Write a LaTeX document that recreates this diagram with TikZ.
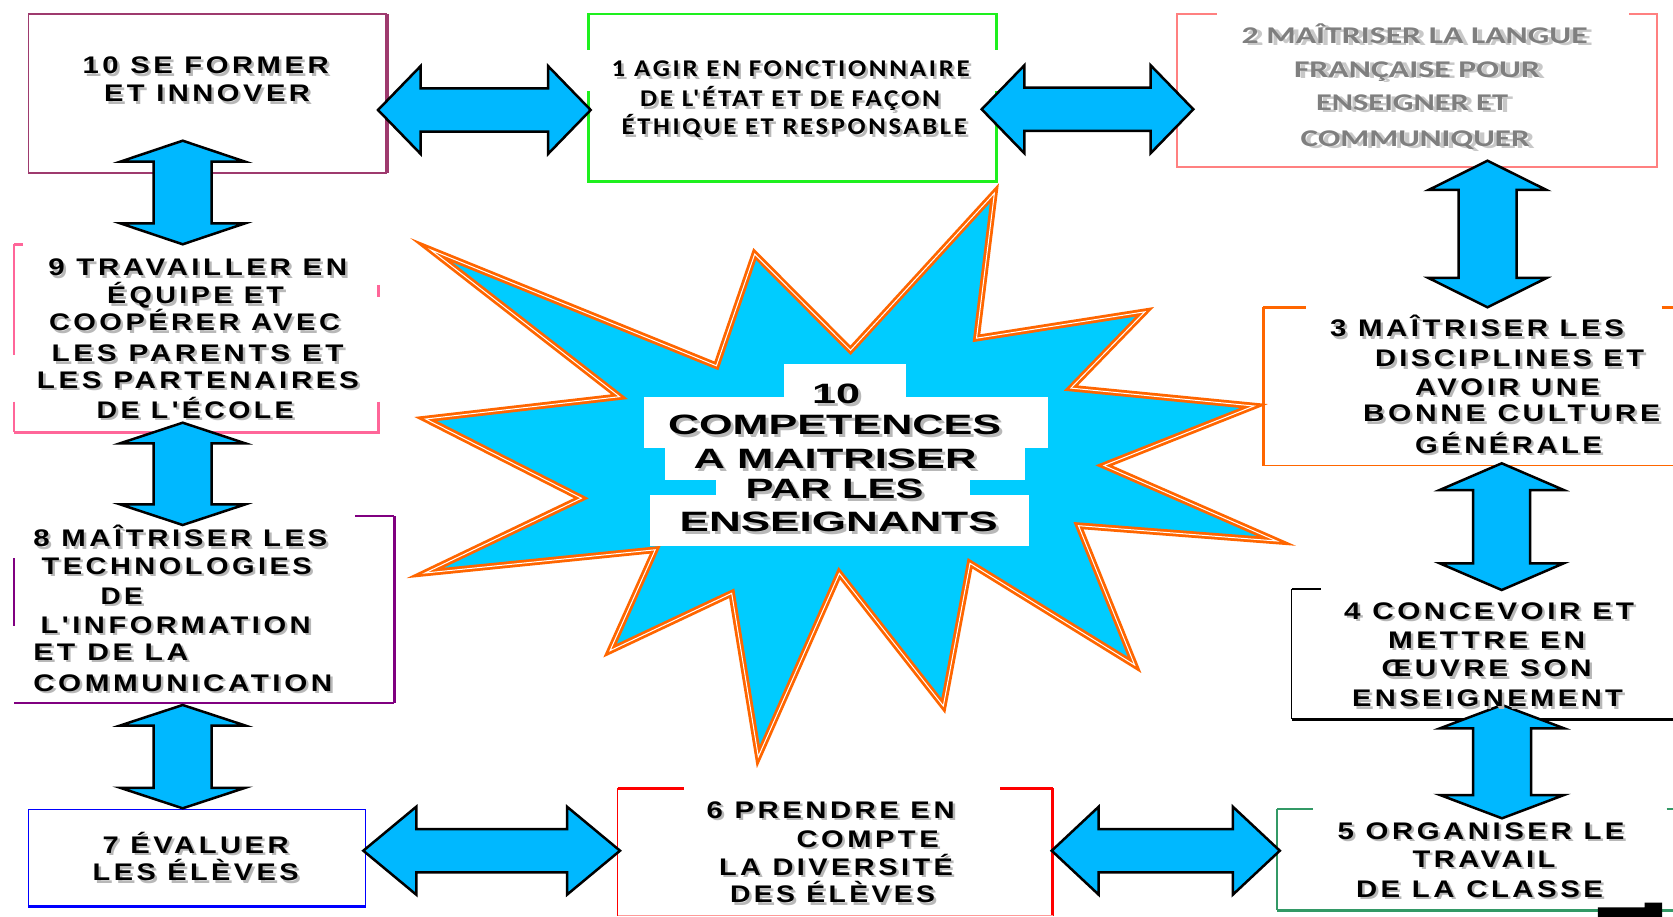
\documentclass[tikz,border=0pt]{standalone}
\usepackage{fontspec}
\setmainfont{Liberation Sans}
\newfontfamily\bxfont{Liberation Sans}[LetterSpace=12]
\newfontfamily\calsp{Carlito}[LetterSpace=10]
\newfontfamily\calfont{Carlito}
\usetikzlibrary{calc}
\definecolor{c10}{RGB}{158,58,110}
\definecolor{cgreen}{RGB}{30,240,30}
\definecolor{c2}{RGB}{255,128,128}
\definecolor{corange}{RGB}{255,102,0}
\definecolor{c5}{RGB}{51,153,102}
\definecolor{c9}{RGB}{255,102,153}
\definecolor{c8}{RGB}{128,0,128}
\definecolor{c7}{RGB}{0,0,255}
\definecolor{c6}{RGB}{255,0,0}
\definecolor{c6b}{RGB}{255,153,153}
\definecolor{arrfill}{RGB}{0,184,255}
\definecolor{starfill}{RGB}{0,204,255}
\definecolor{gtext}{RGB}{127,127,127}
\definecolor{gghost}{RGB}{200,200,200}
\newcommand\FB{\bxfont\bfseries\fontsize{24}{28}\selectfont}
\newcommand\FC{\calsp\bfseries\fontsize{24}{28}\selectfont}
\newcommand\FG{\calfont\bfseries\fontsize{24}{28}\selectfont}
\newcommand\FS{\bfseries\fontsize{28}{32}\selectfont}
% text line with grey shadow: name, x, baseline y, width, font, text
\newcommand\tline[6]{%
  \node[tshadow] (#1s) at ({#2+2.5},{#3+2.5}) {\resizebox{#4pt}{\height}{#5#6}};
  \node[tmain] (#1) at (#2,#3) {\resizebox{#4pt}{\height}{#5#6}};}
% grey text with ghost copy
\newcommand\gline[5]{%
  \node[tghost] (#1s) at ({#2+5},{#3+1.5}) {\resizebox{#4pt}{\height}{\FG#5}};
  \node[tgrey] (#1) at (#2,#3) {\resizebox{#4pt}{\height}{\FG#5}};}
% centre text
\newcommand\ctext[5]{%
  \node[tshadow] (#1s) at ({#2+3},{#3+3}) {\resizebox{#4pt}{\height}{\FS#5}};
  \node[tmain] (#1) at (#2,#3) {\resizebox{#4pt}{\height}{\FS#5}};}
% horizontal double block arrow: left tip, right tip, head length, head half, shaft half
\newcommand\harr[5]{%
  \draw[blockarrow] (#1) -- ($(#1)+(#3,-#4)$) -- ($(#1)+(#3,-#5)$) -- ($(#2)+(-#3,-#5)$)
    -- ($(#2)+(-#3,-#4)$) -- (#2) -- ($(#2)+(-#3,#4)$) -- ($(#2)+(-#3,#5)$)
    -- ($(#1)+(#3,#5)$) -- ($(#1)+(#3,#4)$) -- cycle;}
% vertical double block arrow: top tip, bottom tip, head length, head half, shaft half
\newcommand\varr[5]{%
  \draw[blockarrow] (#1) -- ($(#1)+(#4,#3)$) -- ($(#1)+(#5,#3)$) -- ($(#2)+(#5,-#3)$)
    -- ($(#2)+(#4,-#3)$) -- (#2) -- ($(#2)+(-#4,-#3)$) -- ($(#2)+(-#5,-#3)$)
    -- ($(#1)+(-#5,#3)$) -- ($(#1)+(-#4,#3)$) -- cycle;}
\begin{document}
\begin{tikzpicture}[x=1pt,y=-1pt,
  tshadow/.style={anchor=base west,inner sep=0pt,outer sep=0pt,text=black!28},
  tmain/.style={anchor=base west,inner sep=0pt,outer sep=0pt,text=black},
  tghost/.style={anchor=base west,inner sep=0pt,outer sep=0pt,text=gghost},
  tgrey/.style={anchor=base west,inner sep=0pt,outer sep=0pt,text=gtext},
  blockarrow/.style={fill=arrfill,draw=black,line width=2.5pt,line join=miter}]
\useasboundingbox (0,0) rectangle (1673,917);
\fill[white] (0,0) rectangle (1673,917);

% ---------- starburst ----------
\path[fill=starfill,draw=corange,line width=2.8pt,double=white,double distance=1pt,line join=miter]
 (431,250) -- (716.4,365.8) -- (754.7,254) -- (850.5,350.3) -- (994.4,193.1)
 -- (976.5,338.2) -- (1144.8,311.8) -- (1070.9,388.1) -- (1254,406)
 -- (1104,465.5) -- (1276.7,541) -- (1078.5,525.7) -- (1134.6,665)
 -- (970,563.3) -- (943.3,706) -- (839.3,573.3) -- (758.3,756.7)
 -- (731.7,593.3) -- (610,650.7) -- (655.2,549.8) -- (425,573)
 -- (581.3,498.2) -- (425.7,419) -- (619.5,396.7) -- cycle;
% white panels behind the centre title
\fill[white] (783.7,364) rectangle (906,396.7);
\fill[white] (643.5,396.7) rectangle (1048,447.6);
\fill[white] (665.4,447.6) rectangle (1025,480.3);
\fill[white] (716.4,480.3) rectangle (970,495.4);
\fill[white] (650,495.4) rectangle (1028.5,546.4);

% ---------- boxes ----------
% box 10
\draw[c10,line width=1.5pt] (387,14) -- (28.3,14) -- (28.3,173) -- (387,173);
\draw[c10,line width=3.3pt] (387,14) -- (387,173);
% box 1
\draw[cgreen,line width=2.7pt] (588.3,50) -- (588.3,14) -- (996.7,14) -- (996.7,50);
\draw[cgreen,line width=2.7pt] (588.3,91) -- (588.3,181.7) -- (996.7,181.7) -- (996.7,91);
% box 2
\draw[c2,line width=2pt] (1216.7,14) -- (1177.3,14) -- (1177.3,167.3) -- (1656.7,167.3) -- (1656.7,14) -- (1629,14);
% box 3
\draw[corange,line width=3.3pt] (1263.3,307.3) -- (1263.3,465.7);
\draw[corange,line width=2.5pt] (1263.3,307.3) -- (1306,307.3);
\draw[corange,line width=2.5pt] (1661.7,307.3) -- (1673,307.3);
\draw[corange,line width=1.4pt] (1263.3,465.7) -- (1673,465.7);
% box 4
\draw[black,line width=1.3pt] (1291.7,589) -- (1291.7,719.3);
\draw[black,line width=2.5pt] (1291.7,589) -- (1321,589);
\draw[black,line width=3pt] (1291.7,719.3) -- (1673,719.3);
% box 5
\draw[c5,line width=1.8pt] (1277.3,809) -- (1277.3,910);
\draw[c5,line width=1.3pt] (1277.3,809) -- (1313,809);
\draw[c5,line width=1.3pt] (1666.5,809) -- (1673,809);
\draw[c5,line width=3pt] (1277.3,910) -- (1673,910);
% box 6
\draw[c6,line width=1pt] (617.7,788.3) -- (617.7,916);
\draw[c6,line width=2.5pt] (617.7,788.3) -- (684,788.3);
\draw[c6,line width=2.5pt] (1000,788.3) -- (1052.7,788.3);
\draw[c6,line width=3.3pt] (1052.7,788.3) -- (1052.7,916);
\draw[c6b,line width=1.5pt] (617.7,915.5) -- (1052.7,915.5);
% box 7
\draw[c7,line width=1pt] (28.3,906.7) -- (28.3,809) -- (365.7,809) -- (365.7,906.7);
\draw[c7,line width=3.3pt] (28.3,906.7) -- (365.7,906.7);
% box 8
\draw[c8,line width=1.3pt] (14,558.3) -- (14,626);
\draw[c8,line width=2pt] (355,516.3) -- (394.3,516.3);
\draw[c8,line width=3.3pt] (394.3,516.3) -- (394.3,703.3);
\draw[c8,line width=1.8pt] (14,703.3) -- (394.3,703.3);
% box 9
\draw[c9,line width=1.5pt] (14,244.3) -- (14,355);
\draw[c9,line width=1.5pt] (14,401.7) -- (14,432.3);
\draw[c9,line width=2.5pt] (14,244.3) -- (23.3,244.3);
\draw[c9,line width=3pt] (378.3,285) -- (378.3,296.7);
\draw[c9,line width=3pt] (378.3,401.7) -- (378.3,432.3);
\draw[c9,line width=2.5pt] (14,432.3) -- (379.5,432.3);
% corner mark
\fill[black] (1597.8,917) -- (1597.8,907.3) -- (1644.6,907.3) -- (1644.6,902.7) -- (1662,902.7) -- (1662,917) -- cycle;

% ---------- arrows ----------
\coordinate (h1a) at (378,110);    \coordinate (h1b) at (590.7,110);
\coordinate (h2a) at (981.7,109.3); \coordinate (h2b) at (1193.3,109.3);
\coordinate (h3a) at (363.3,850.7); \coordinate (h3b) at (620,850.7);
\coordinate (h4a) at (1051.7,850.7); \coordinate (h4b) at (1279.8,850.7);
\coordinate (v1a) at (182.7,140.7); \coordinate (v1b) at (182.7,244.3);
\coordinate (v2a) at (182.7,422.7); \coordinate (v2b) at (182.7,525);
\coordinate (v3a) at (182.7,705);   \coordinate (v3b) at (182.7,808.3);
\coordinate (v4a) at (1487.5,160.7); \coordinate (v4b) at (1487.5,307.3);
\coordinate (v5a) at (1501.7,463.3); \coordinate (v5b) at (1501.7,590);
\coordinate (v6a) at (1502,705);    \coordinate (v6b) at (1502,818.3);
\harr{h1a}{h1b}{42.7}{44}{21.7}
\harr{h2a}{h2b}{42.7}{44}{21.7}
\harr{h3a}{h3b}{53}{44}{21.7}
\harr{h4a}{h4b}{47}{44}{21.7}
\varr{v1a}{v1b}{21}{62.5}{29}
\varr{v2a}{v2b}{20.6}{62.5}{29}
\varr{v3a}{v3b}{20.5}{62.5}{29}
\varr{v4a}{v4b}{29.3}{59}{29}
\varr{v5a}{v5b}{26.7}{62}{28.5}
\varr{v6a}{v6b}{23.3}{62}{29}

% ---------- texts ----------
% centre
\ctext{ca}{812}{403}{48}{10}
\ctext{cb}{668}{434.6}{333}{COMPETENCES}
\ctext{cc}{693.5}{468}{283}{A MAITRISER}
\ctext{cd}{745.5}{498}{178}{PAR LES}
\ctext{ce}{679.7}{531.6}{318}{ENSEIGNANTS}
% box 10
\tline{t10a}{82.7}{74}{246}{\FB}{10 SE FORMER}
\tline{t10b}{104}{101.7}{206}{\FB}{ET INNOVER}
% box 1
\tline{t1a}{611.7}{76.7}{358}{\FC}{1 AGIR EN FONCTIONNAIRE}
\tline{t1b}{640}{106.7}{300}{\FC}{DE L'ÉTAT ET DE FAÇON}
\tline{t1c}{621.7}{135}{345}{\FC}{ÉTHIQUE ET RESPONSABLE}
% box 2
\gline{t2a}{1241.7}{44}{346}{2 MAÎTRISER LA LANGUE}
\gline{t2b}{1294}{77.3}{246}{FRANÇAISE POUR}
\gline{t2c}{1316}{110.7}{192}{ENSEIGNER ET}
\gline{t2d}{1300.7}{146.7}{229}{COMMUNIQUER}
% box 3
\tline{t3a}{1330}{336.7}{294}{\FB}{3 MAÎTRISER LES}
\tline{t3b}{1375}{366.7}{269}{\FB}{DISCIPLINES ET}
\tline{t3c}{1415}{395}{185}{\FB}{AVOIR UNE}
\tline{t3d}{1363}{421.7}{297}{\FB}{BONNE CULTURE}
\tline{t3e}{1415}{453.3}{187}{\FB}{GÉNÉRALE}
% box 4
\tline{t4a}{1344}{619.3}{290}{\FB}{4 CONCEVOIR ET}
\tline{t4b}{1388}{648.3}{197}{\FB}{METTRE EN}
\tline{t4c}{1381.7}{676.7}{210}{\FB}{ŒUVRE SON}
\tline{t4d}{1352}{706.7}{271}{\FB}{ENSEIGNEMENT}
% box 5
\tline{t5a}{1337.6}{839.3}{287}{\FB}{5 ORGANISER LE}
\tline{t5b}{1412.5}{867.3}{143}{\FB}{TRAVAIL}
\tline{t5c}{1356}{897.3}{247}{\FB}{DE LA CLASSE}
% box 6
\tline{t6a}{706.7}{818.3}{248}{\FB}{6 PRENDRE EN}
\tline{t6b}{796.7}{847.3}{142}{\FB}{COMPTE}
\tline{t6c}{719}{875}{234}{\FB}{LA DIVERSITÉ}
\tline{t6d}{730}{902.7}{205}{\FB}{DES ÉLÈVES}
% box 7
\tline{t7a}{102.7}{853.3}{186}{\FB}{7 ÉVALUER}
\tline{t7b}{92.7}{880.7}{206}{\FB}{LES ÉLÈVES}
% box 8
\tline{t8a}{33.3}{546.7}{294}{\FB}{8 MAÎTRISER LES}
\tline{t8b}{41.7}{574}{270}{\FB}{TECHNOLOGIES}
\tline{t8c}{100.7}{604.3}{42}{\FB}{DE}
\tline{t8d}{40.7}{633.3}{270}{\FB}{L'INFORMATION}
\tline{t8e}{33.3}{660}{155}{\FB}{ET DE LA}
\tline{t8f}{33.3}{691}{299}{\FB}{COMMUNICATION}
% box 9
\tline{t9a}{48.3}{276}{299}{\FB}{9 TRAVAILLER EN}
\tline{t9b}{107}{304}{177}{\FB}{ÉQUIPE ET}
\tline{t9c}{49}{330.7}{291}{\FB}{COOPÉRER AVEC}
\tline{t9d}{51.7}{361.7}{292}{\FB}{LES PARENTS ET}
\tline{t9e}{37}{388.3}{322}{\FB}{LES PARTENAIRES}
\tline{t9f}{96.7}{418.3}{197}{\FB}{DE L'ÉCOLE}
\end{tikzpicture}
\end{document}
